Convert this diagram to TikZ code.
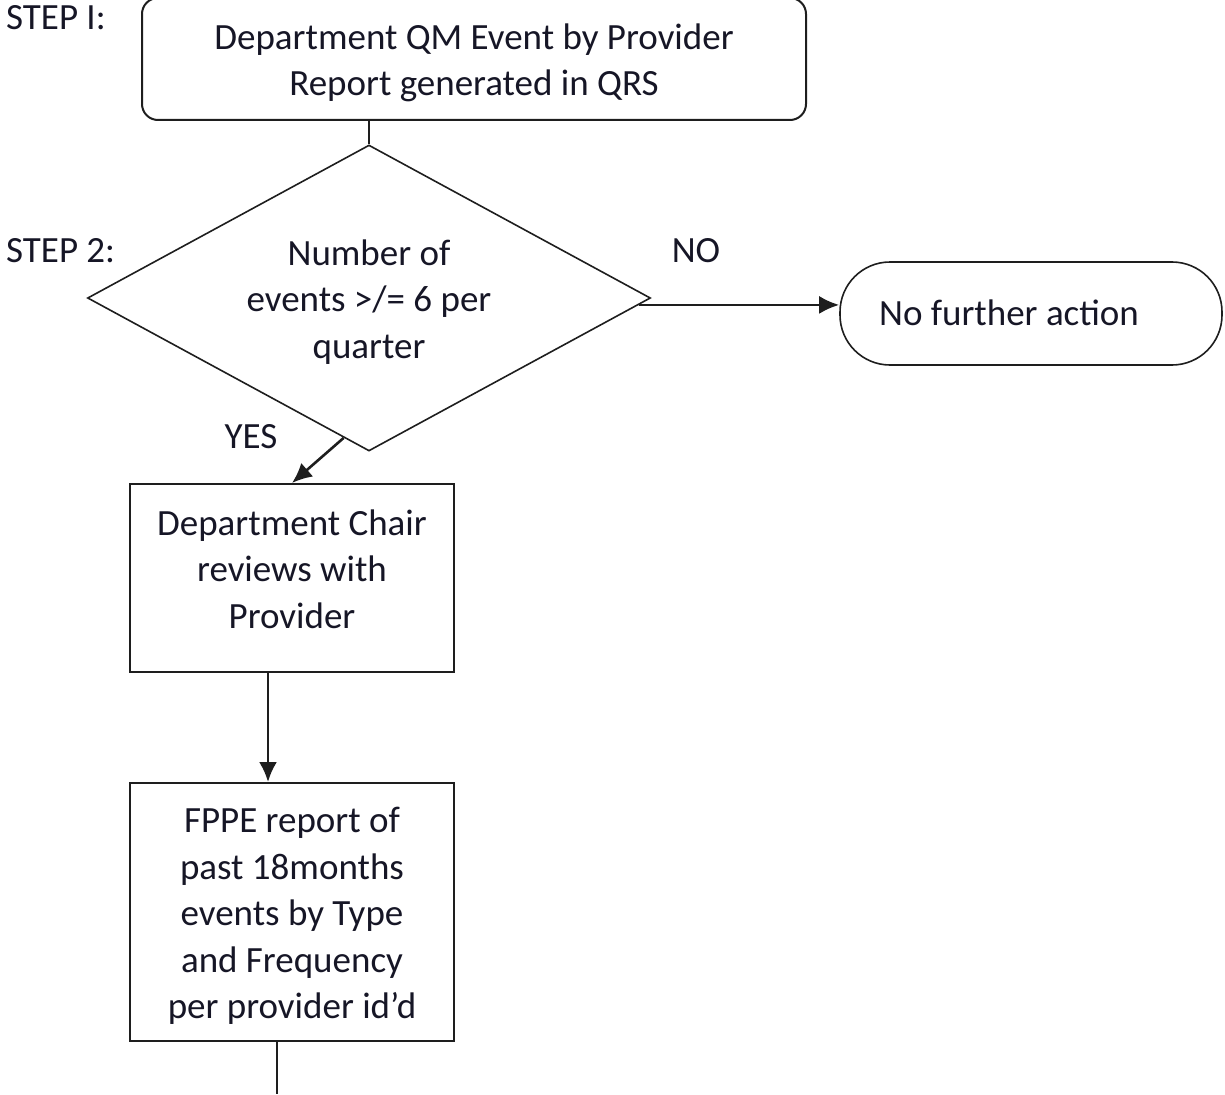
\documentclass[tikz,border=0pt]{standalone}
\usepackage{fontspec}
\setmainfont{Carlito}
\usetikzlibrary{shapes.geometric,calc,arrows.meta}
\definecolor{txt}{RGB}{22,22,38}
\definecolor{ln}{RGB}{30,30,30}
\begin{document}
\begin{tikzpicture}[x=1pt,y=-1pt,
  every node/.style={font=\fontsize{37}{46.5}\selectfont, text=txt},
  box/.style={draw=ln, line width=2pt, inner sep=0pt},
  txtnode/.style={align=center, inner sep=0pt},
  arr/.style={draw=ln, line width=2.6pt, -{Latex[length=20pt,width=18pt]}},
  plain/.style={draw=ln, line width=2pt},
  lbl/.style={inner sep=0pt}]
\useasboundingbox (0,0) rectangle (1225,1094);
% Step 1 box
\node[box, rounded corners=16pt, minimum width=664pt, minimum height=122pt] (top) at (474,59) {};
\node[txtnode] (topT) at (474,63) {Department QM Event by Provider\\Report generated in QRS};
% Decision diamond
\node[diamond, draw=ln, line width=1.6pt, shape aspect=1.84, minimum width=563pt, minimum height=306pt, inner sep=0pt] (dec) at (369,298) {};
\node[txtnode] (decT) at (369,302) {Number of\\events >/= 6 per\\quarter};
% terminal
\node[box, rounded corners=50pt, line width=1.6pt, minimum width=382pt, minimum height=103pt] (end) at (1031,313.5) {};
\node[txtnode] (endT) at (1009,313) {No further action};
% Box 2
\node[box, minimum width=324pt, minimum height=188pt] (b2) at (292,578) {};
\node[txtnode] (b2T) at (292,569) {Department Chair\\reviews with\\Provider};
% Box 3
\node[box, minimum width=324pt, minimum height=258pt] (b3) at (292,912) {};
\node[txtnode] (b3T) at (292,916) {FPPE report of\\past 18months\\events by Type\\and Frequency\\per provider id’d};
% labels
\node[lbl, anchor=west] (s1) at (6,18) {STEP I:};
\node[lbl, anchor=west] (s2) at (6,251) {STEP 2:};
\node[lbl] (no) at (696,251) {NO};
\node[lbl] (yes) at (251,437) {YES};
% connectors
\draw[plain] (top.south -| dec.north) -- (dec.north);
\coordinate (noStart) at ($(dec.east)!0.045!(dec.south)$);
\draw[arr] (noStart) -- (noStart -| end.west);
\coordinate (yesStart) at ($(dec.west)!0.91!(dec.south)$);
\draw[arr] (yesStart) -- (b2.north);
\draw[arr] ([xshift=-24pt]b2.south) -- ([xshift=-24pt]b3.north);
\coordinate (bot) at (277,1094);
\draw[plain] (b3.south -| bot) -- (bot);
\end{tikzpicture}
\end{document}
